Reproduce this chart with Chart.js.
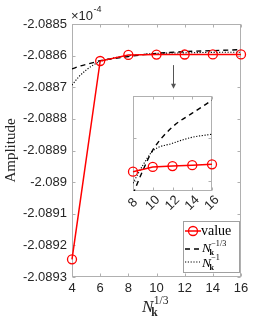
<!DOCTYPE html>
<html>
<head>
<meta charset="utf-8">
<script src="https://cdn.jsdelivr.net/npm/chart.js@4.4.1/dist/chart.umd.min.js"></script>
<style>
  body { margin: 0; background: #fff; }
  #wrap { position: relative; width: 266px; height: 319px; }
  canvas { position: absolute; }
</style>
</head>
<body>
<div id="wrap">
  <canvas id="main" width="266" height="319" style="left:0;top:0"></canvas>
  <canvas id="inset" width="107" height="130" style="left:113px;top:88px"></canvas>
</div>
<script>
// values are in units of 1e-4
const nValue = [4, 6, 8, 10, 12, 14, 16];
const amplitude = [-2.089244, -2.088617, -2.0885978, -2.0885967, -2.0885965, -2.0885963, -2.0885961];

const nCurve = [4, 4.5, 5, 5.5, 6, 7, 8, 9, 10, 12, 14, 16];
const fitCubeRoot = [-2.088642, -2.088634, -2.088628, -2.088622, -2.088616, -2.088609, -2.088603, -2.0885975, -2.0885928, -2.0885874, -2.0885842, -2.0885812];
const fitInverse = [-2.088693, -2.088666, -2.088646, -2.088630, -2.088619, -2.088607, -2.0886005, -2.0885963, -2.088593, -2.0885912, -2.0885898, -2.0885891];

const xTicks = [4, 6, 8, 10, 12, 14, 16];
const yTicks = [-2.0893, -2.0892, -2.0891, -2.089, -2.0889, -2.0888, -2.0887, -2.0886, -2.0885];
const insetXTicks = [8, 10, 12, 14, 16];
const insetYTicks = [-2.0886, -2.08859];
const insetRange = [-2.0886023, -2.0885802];
const arrowAt = [11.2, -2.08863, -2.088705];

const FRAME = '#b0b0b0';
const TXT = '#262626';
const SERIF = '"Liberation Serif", "DejaVu Serif", serif';
const SANS = '"Liberation Sans", Arial, sans-serif';

function pts(xs, ys, from) {
    return xs.map((x, i) => ({x: x, y: ys[i]})).filter(p => p.x >= from);
}

function drawFrame(chart, xt, yt) {
    const ctx = chart.ctx;
    const a = chart.chartArea;
    const xs = chart.scales.x, ys = chart.scales.y;
    const L = Math.round(a.left) + 0.5, R = Math.round(a.right) - 0.5;
    const T = Math.round(a.top) + 0.5, B = Math.round(a.bottom) - 0.5;
    ctx.save();
    ctx.fillStyle = '#fff';
    ctx.fillRect(L, T, R - L, B - T);
    ctx.strokeStyle = FRAME;
    ctx.lineWidth = 1;
    ctx.strokeRect(L, T, R - L, B - T);
    ctx.beginPath();
    for (let v of xt) {
        const px = Math.round(xs.getPixelForValue(v)) + 0.5;
        ctx.moveTo(px, B); ctx.lineTo(px, B - 3);
        ctx.moveTo(px, T); ctx.lineTo(px, T + 3);
    }
    for (let v of yt) {
        const py = Math.round(ys.getPixelForValue(v)) + 0.5;
        ctx.moveTo(L, py); ctx.lineTo(L + 3, py);
        ctx.moveTo(R, py); ctx.lineTo(R - 3, py);
    }
    ctx.stroke();
    ctx.restore();
}

// N_k with superscript
function drawNk(ctx, x, y, size, sup, k) {
    ctx.font = 'italic ' + size + 'px ' + SERIF;
    ctx.fillText('N', x, y);
    const w = ctx.measureText('N').width;
    const s = size * k;
    ctx.font = 'bold ' + s + 'px ' + SERIF;
    ctx.fillText('k', x + w - size * 0.12, y + size * 0.25);
    ctx.font = s + 'px ' + SERIF;
    ctx.fillText(sup, x + w + size * 0.02, y - size * 0.45);
}

const mainDecor = {
    id: 'mainDecor',
    beforeDatasetsDraw(chart) {
        drawFrame(chart, xTicks, yTicks);
    },
    afterDraw(chart) {
        const ctx = chart.ctx;
        const xs = chart.scales.x, ys = chart.scales.y;
        ctx.save();

        // arrow
        const ax = Math.round(xs.getPixelForValue(arrowAt[0])) + 0.5;
        const ay0 = ys.getPixelForValue(arrowAt[1]);
        const ay1 = ys.getPixelForValue(arrowAt[2]);
        ctx.strokeStyle = '#555';
        ctx.fillStyle = '#555';
        ctx.lineWidth = 1;
        ctx.beginPath();
        ctx.moveTo(ax, ay0); ctx.lineTo(ax, ay1 - 4);
        ctx.stroke();
        ctx.beginPath();
        ctx.moveTo(ax - 2.5, ay1 - 5); ctx.lineTo(ax + 2.5, ay1 - 5); ctx.lineTo(ax, ay1);
        ctx.closePath();
        ctx.fill();

        // exponent
        ctx.fillStyle = TXT;
        ctx.textBaseline = 'alphabetic';
        ctx.textAlign = 'left';
        ctx.font = '13px ' + SANS;
        ctx.fillText('\u00d710', 71, 20);
        const w10 = ctx.measureText('\u00d710').width;
        ctx.font = '9px ' + SANS;
        ctx.fillText('-4', 71 + w10 + 0.5, 12);

        // y label
        ctx.save();
        ctx.translate(15, (chart.chartArea.top + chart.chartArea.bottom) / 2);
        ctx.rotate(-Math.PI / 2);
        ctx.textAlign = 'center';
        ctx.font = '15px ' + SERIF;
        ctx.fillText('Amplitude', 0, 0);
        ctx.restore();

        // x label
        ctx.textAlign = 'left';
        drawNk(ctx, 142, 312, 17, '1/3', 0.68);

        // legend
        const lx = 183.5, ly = 221.5, lw = 56, lh = 51;
        ctx.fillStyle = '#fff';
        ctx.fillRect(lx, ly, lw, lh);
        ctx.strokeStyle = '#a0a0a0';
        ctx.strokeRect(lx, ly, lw, lh);

        // row 1
        ctx.strokeStyle = '#ff0000';
        ctx.lineWidth = 1.5;
        ctx.beginPath();
        ctx.moveTo(185, 231); ctx.lineTo(201, 231);
        ctx.stroke();
        ctx.lineWidth = 1.3;
        ctx.beginPath();
        ctx.arc(193, 231, 4.5, 0, Math.PI * 2);
        ctx.stroke();
        ctx.fillStyle = '#000';
        ctx.font = '14px ' + SERIF;
        ctx.fillText('value', 201, 235);

        // row 2
        ctx.strokeStyle = '#000';
        ctx.lineWidth = 1.4;
        ctx.setLineDash([5, 4]);
        ctx.beginPath();
        ctx.moveTo(185, 249); ctx.lineTo(200, 249);
        ctx.stroke();
        drawNk(ctx, 202, 252, 13.5, '\u22121/3', 0.6);

        // row 3
        ctx.lineWidth = 1.1;
        ctx.setLineDash([1.2, 1.6]);
        ctx.beginPath();
        ctx.moveTo(185, 262); ctx.lineTo(200, 262);
        ctx.stroke();
        ctx.setLineDash([]);
        drawNk(ctx, 202, 266.5, 13.5, '\u22121', 0.6);

        ctx.restore();
    }
};

const insetDecor = {
    id: 'insetDecor',
    beforeDatasetsDraw(chart) {
        drawFrame(chart, insetXTicks, insetYTicks);
        const ctx = chart.ctx;
        const xs = chart.scales.x;
        ctx.save();
        ctx.fillStyle = TXT;
        ctx.font = '13px ' + SANS;
        ctx.textAlign = 'center';
        ctx.textBaseline = 'middle';
        for (let v of insetXTicks) {
            ctx.save();
            ctx.translate(xs.getPixelForValue(v), chart.chartArea.bottom + 12);
            ctx.rotate(-Math.PI / 4);
            ctx.fillText(String(v), 0, 0);
            ctx.restore();
        }
        ctx.restore();
    }
};

function datasets(from) {
    return [
        {
            label: 'value',
            data: pts(nValue, amplitude, from),
            borderColor: '#ff0000',
            borderWidth: 1.5,
            pointRadius: 4.5,
            pointBorderWidth: 1.3,
            pointBackgroundColor: 'rgba(0,0,0,0)',
            pointBorderColor: '#ff0000',
            tension: 0,
            clip: false
        },
        {
            label: 'N^-1/3',
            data: pts(nCurve, fitCubeRoot, from),
            borderColor: '#000',
            borderWidth: 1.4,
            borderDash: [5, 4],
            pointRadius: 0,
            cubicInterpolationMode: 'monotone'
        },
        {
            label: 'N^-1',
            data: pts(nCurve, fitInverse, from),
            borderColor: '#000',
            borderWidth: 1.1,
            borderDash: [1.2, 1.6],
            pointRadius: 0,
            cubicInterpolationMode: 'monotone'
        }
    ];
}

new Chart(document.getElementById('main'), {
    type: 'line',
    data: {datasets: datasets(0)},
    options: {
        responsive: false,
        animation: false,
        layout: {padding: {top: 24, right: 25, left: 0, bottom: 0}},
        plugins: {legend: {display: false}, tooltip: {enabled: false}},
        scales: {
            x: {
                type: 'linear', min: 4, max: 16,
                afterBuildTicks: s => { s.ticks = xTicks.map(v => ({value: v})); },
                afterFit: s => { s.height = 42; },
                grid: {display: false, drawTicks: false},
                border: {display: false},
                ticks: {padding: 4, color: TXT, font: {family: 'Liberation Sans', size: 13}, maxRotation: 0, autoSkip: false}
            },
            y: {
                type: 'linear', min: -2.0893, max: -2.0885,
                afterBuildTicks: s => { s.ticks = yTicks.map(v => ({value: v})); },
                afterFit: s => { s.width = 72; },
                grid: {display: false, drawTicks: false},
                border: {display: false},
                ticks: {padding: 5, color: TXT, font: {family: 'Liberation Sans', size: 13}, autoSkip: false,
                    callback: v => String(+v.toFixed(4))}
            }
        }
    },
    plugins: [mainDecor]
});

new Chart(document.getElementById('inset'), {
    type: 'line',
    data: {datasets: datasets(8)},
    options: {
        responsive: false,
        animation: false,
        layout: {padding: {top: 8, right: 8, left: 20, bottom: 27}},
        plugins: {legend: {display: false}, tooltip: {enabled: false}},
        scales: {
            x: {type: 'linear', display: false, min: 8, max: 16},
            y: {type: 'linear', display: false, min: insetRange[0], max: insetRange[1]}
        }
    },
    plugins: [insetDecor]
});
</script>
</body>
</html>
